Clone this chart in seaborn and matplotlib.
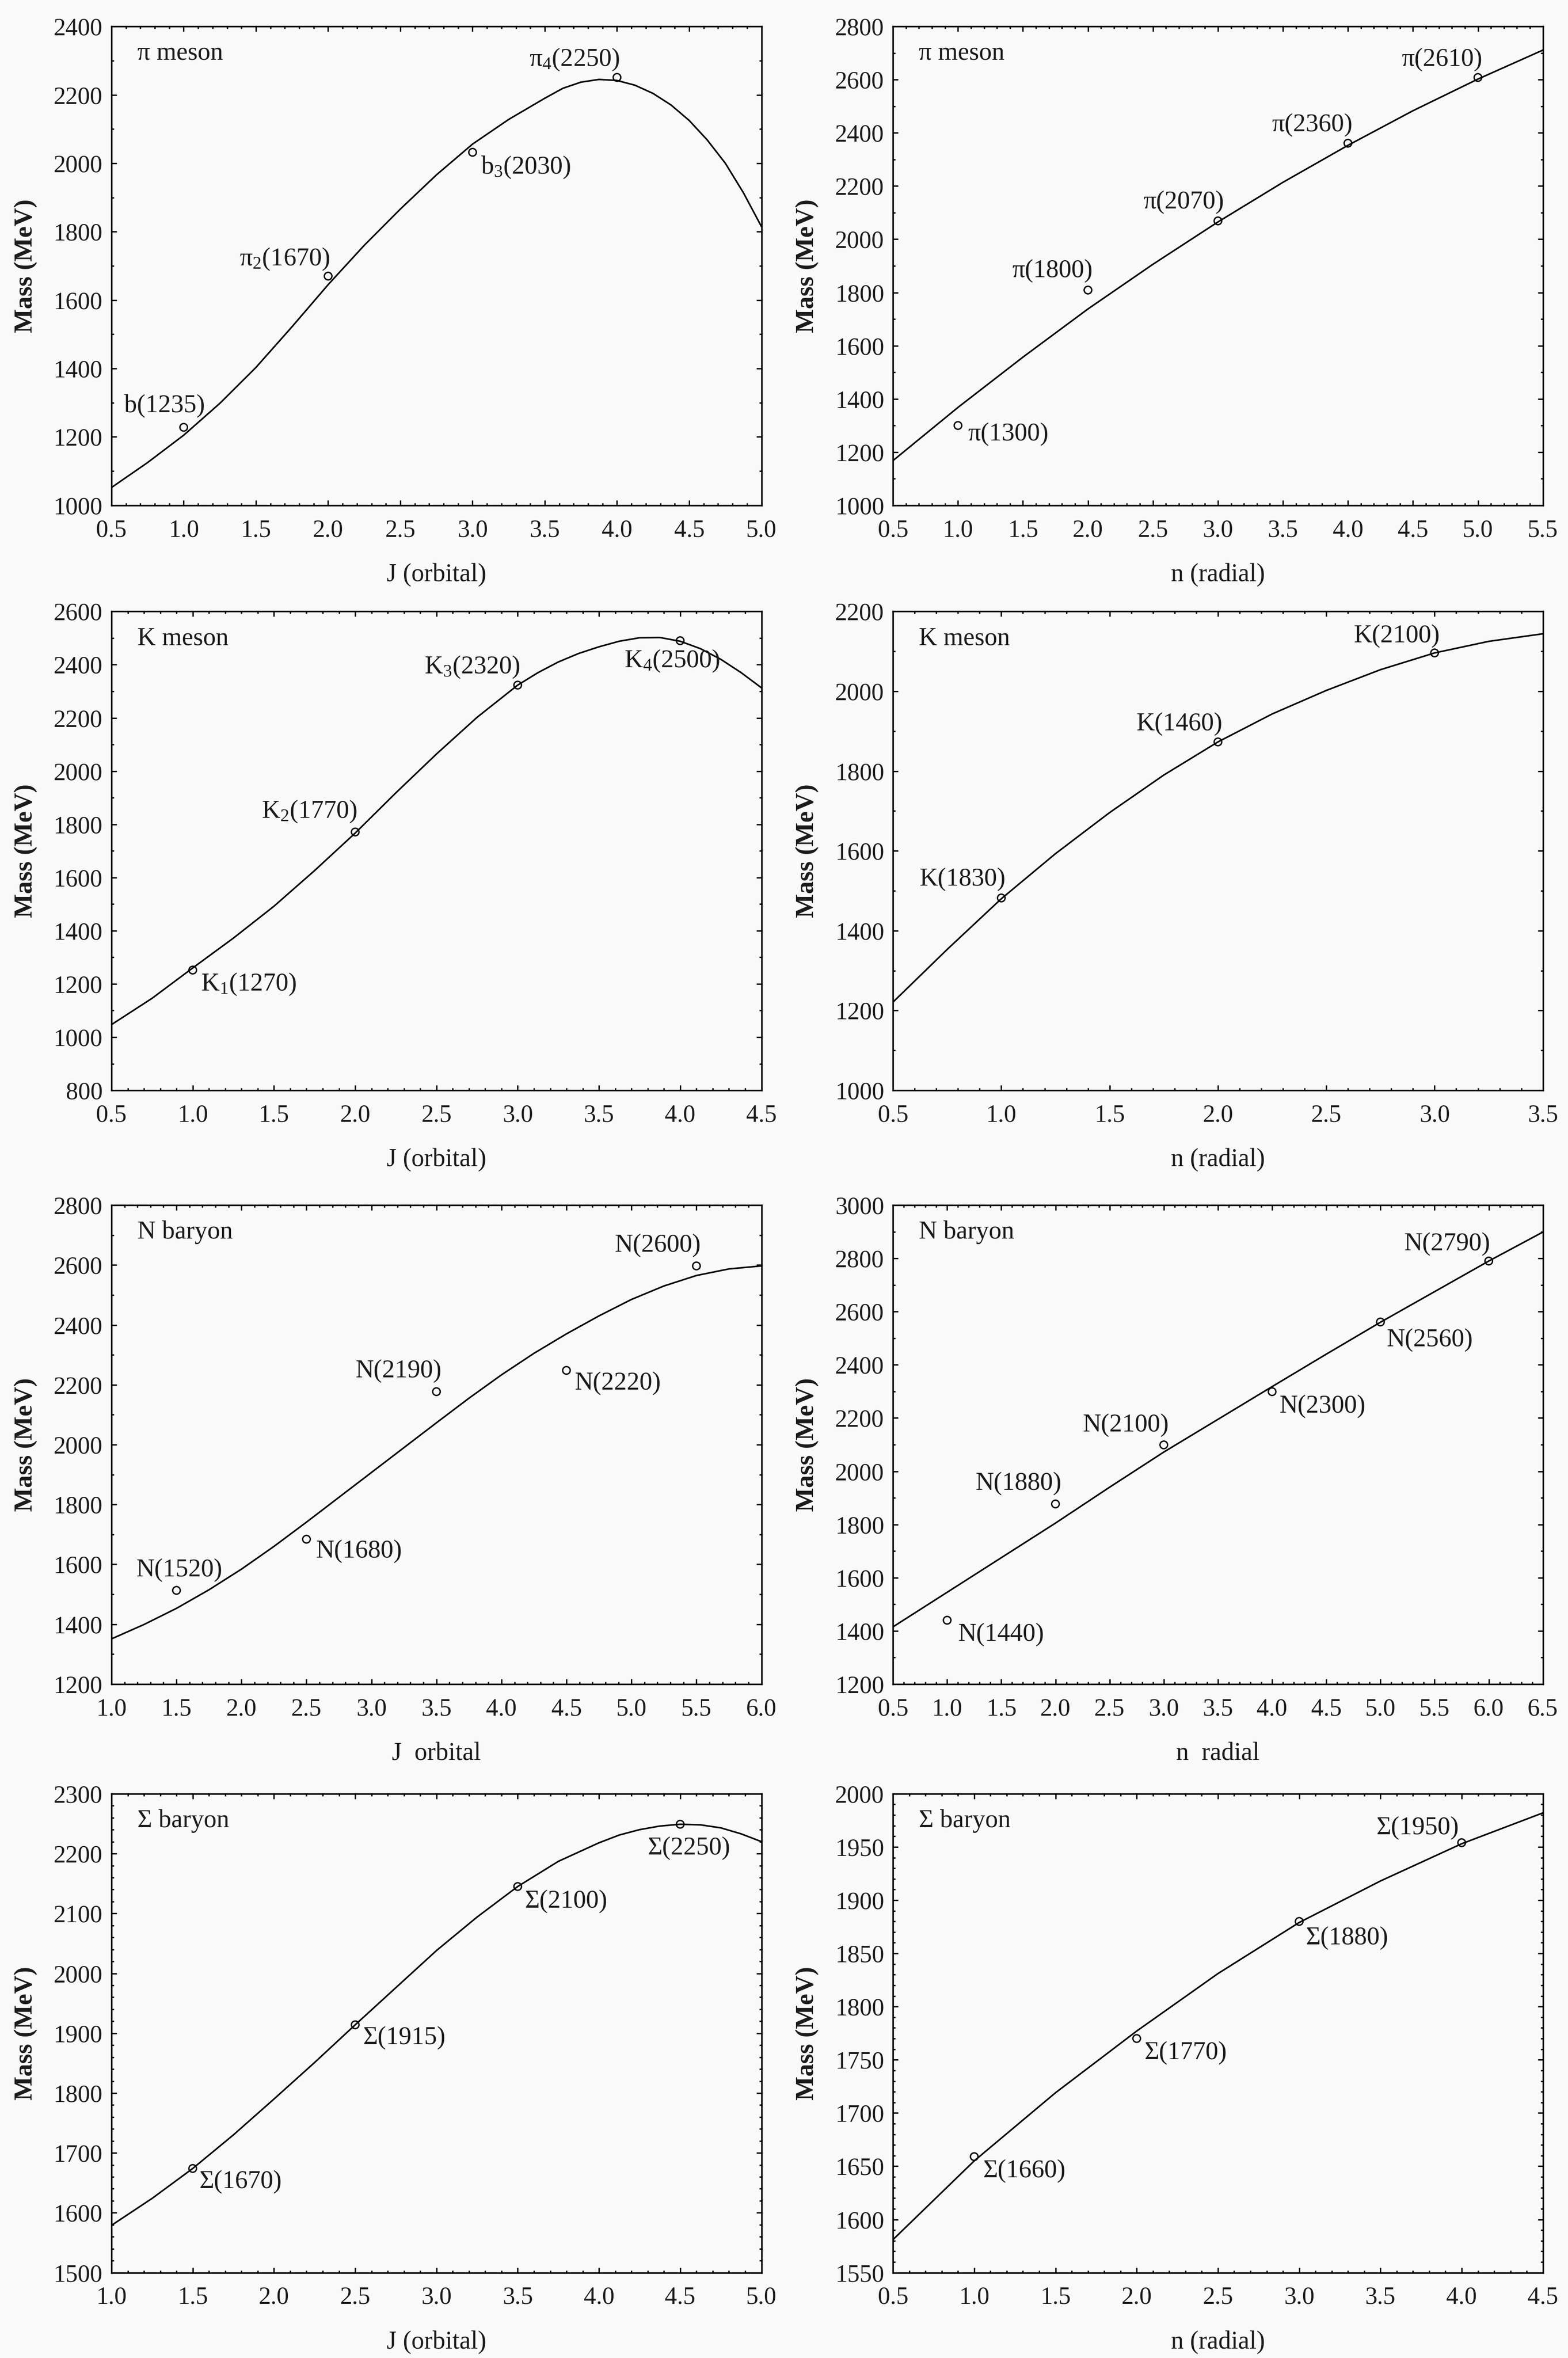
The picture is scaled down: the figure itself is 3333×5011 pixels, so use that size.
import matplotlib
matplotlib.use("Agg")
import matplotlib.pyplot as plt
from matplotlib.ticker import MultipleLocator, FormatStrFormatter
import seaborn as sns

# ---- data ----
# pi meson, orbital
pi_j_x = [1, 2, 3, 4]
pi_j_m = [1228, 1670, 2032, 2251]
pi_j_lab = ["b(1235)", "π$_2$(1670)", "b$_3$(2030)", "π$_4$(2250)"]
pi_j_cx = [0.5, 0.75, 1.0, 1.25, 1.5, 1.75, 2.0, 2.25, 2.5, 2.75, 3.0, 3.25, 3.5, 3.625, 3.75,
           3.875, 4.0, 4.125, 4.25, 4.375, 4.5, 4.625, 4.75, 4.875, 5.0]
pi_j_cy = [1052, 1125, 1205, 1298, 1403, 1522, 1645, 1760, 1866, 1966, 2056, 2128, 2190, 2219, 2237,
           2245, 2242, 2228, 2204, 2170, 2125, 2068, 2000, 1914, 1815]

# pi meson, radial
pi_n_x = [1, 2, 3, 4, 5]
pi_n_m = [1300, 1809, 2069, 2361, 2608]
pi_n_lab = ["π(1300)", "π(1800)", "π(2070)", "π(2360)", "π(2610)"]
pi_n_cx = [0.5, 1.0, 1.5, 2.0, 2.5, 3.0, 3.5, 4.0, 4.5, 5.0, 5.5]
pi_n_cy = [1168, 1368, 1557, 1738, 1906, 2065, 2214, 2353, 2483, 2602, 2711]

# K meson, orbital
k_j_x = [1, 2, 3, 4]
k_j_m = [1252, 1771, 2323, 2490]
k_j_lab = ["K$_1$(1270)", "K$_2$(1770)", "K$_3$(2320)", "K$_4$(2500)"]
k_j_cx = [0.5, 0.75, 1.0, 1.25, 1.5, 1.75, 2.0, 2.25, 2.5, 2.75, 3.0, 3.125, 3.25, 3.375, 3.5,
          3.625, 3.75, 3.875, 4.0, 4.125, 4.25, 4.375, 4.5]
k_j_cy = [1047, 1146, 1260, 1372, 1492, 1626, 1767, 1918, 2064, 2202, 2323, 2370, 2410, 2442, 2467,
          2488, 2501, 2502, 2488, 2460, 2420, 2370, 2313]

# K meson, radial
k_n_x = [1, 2, 3]
k_n_m = [1482, 1873, 2096]
k_n_lab = ["K(1830)", "K(1460)", "K(2100)"]
k_n_cx = [0.5, 0.75, 1.0, 1.25, 1.5, 1.75, 2.0, 2.25, 2.5, 2.75, 3.0, 3.25, 3.5]
k_n_cy = [1221, 1353, 1480, 1593, 1696, 1790, 1873, 1943, 2002, 2054, 2096, 2125, 2144]

# N baryon, orbital
n_j_x = [1.5, 2.5, 3.5, 4.5, 5.5]
n_j_m = [1513, 1684, 2177, 2248, 2597]
n_j_lab = ["N(1520)", "N(1680)", "N(2190)", "N(2220)", "N(2600)"]
n_j_cx = [1.0, 1.25, 1.5, 1.75, 2.0, 2.25, 2.5, 2.75, 3.0, 3.25, 3.5,
          3.75, 4.0, 4.25, 4.5, 4.75, 5.0, 5.25, 5.5, 5.75, 6.0]
n_j_cy = [1351, 1399, 1453, 1515, 1584, 1660, 1741, 1824, 1907, 1990, 2073,
          2155, 2233, 2305, 2370, 2430, 2485, 2530, 2565, 2587, 2597]

# N baryon, radial
n_n_x = [1, 2, 3, 4, 5, 6]
n_n_m = [1440, 1877, 2099, 2299, 2561, 2790]
n_n_lab = ["N(1440)", "N(1880)", "N(2100)", "N(2300)", "N(2560)", "N(2790)"]
n_n_cx = [0.5, 1.0, 1.5, 2.0, 2.5, 3.0, 3.5, 4.0, 4.5, 5.0, 5.5, 6.0, 6.5]
n_n_cy = [1415, 1545, 1675, 1805, 1940, 2072, 2195, 2318, 2440, 2560, 2675, 2790, 2899]

# Sigma baryon, orbital
s_j_x = [1.5, 2.5, 3.5, 4.5]
s_j_m = [1674, 1914, 2145, 2249]
s_j_lab = ["Σ(1670)", "Σ(1915)", "Σ(2100)", "Σ(2250)"]
s_j_cx = [1.0, 1.25, 1.5, 1.75, 2.0, 2.25, 2.5, 2.75, 3.0, 3.25, 3.5, 3.75, 4.0, 4.125, 4.25,
          4.375, 4.5, 4.625, 4.75, 4.875, 5.0]
s_j_cy = [1579, 1624, 1674, 1730, 1790, 1851, 1914, 1976, 2038, 2094, 2145, 2187, 2218, 2231, 2240,
          2246, 2249, 2248, 2243, 2233, 2220]

# Sigma baryon, radial
s_n_x = [1, 2, 3, 4]
s_n_m = [1659, 1770, 1880, 1954]
s_n_lab = ["Σ(1660)", "Σ(1770)", "Σ(1880)", "Σ(1950)"]
s_n_cx = [0.5, 1.0, 1.5, 2.0, 2.5, 3.0, 3.5, 4.0, 4.5]
s_n_cy = [1581, 1655, 1719, 1777, 1831, 1879, 1918, 1953, 1982]

titles = ["π meson", "π meson", "K meson", "K meson",
          "N baryon", "N baryon", "Σ baryon", "Σ baryon"]
xlabels = ["J (orbital)", "n (radial)", "J (orbital)", "n (radial)",
           "J  orbital", "n  radial", "J (orbital)", "n (radial)"]

# ---- layout ----
sns.set_theme(style="ticks")
plt.rcParams["font.family"] = ["Liberation Serif", "DejaVu Serif"]
plt.rcParams["mathtext.fontset"] = "custom"
plt.rcParams["mathtext.rm"] = "Liberation Serif"
plt.rcParams["mathtext.default"] = "regular"
plt.rcParams["lines.solid_joinstyle"] = "round"

BG = "#f9f9f9"
INK = "#1a1a1a"

fig = plt.figure(figsize=(3333 / 300, 5011 / 300), dpi=300, facecolor=BG)

col_left = [0.0711, 0.5695]
col_w = 0.4145
row_bot = [0.7857, 0.5376, 0.2858, 0.0362]
row_h = 0.2031

panels = [
    (pi_j_x, pi_j_m, pi_j_lab, pi_j_cx, pi_j_cy, (0.5, 5.0), (1000, 2400), 200, 100),
    (pi_n_x, pi_n_m, pi_n_lab, pi_n_cx, pi_n_cy, (0.5, 5.5), (1000, 2800), 200, 100),
    (k_j_x, k_j_m, k_j_lab, k_j_cx, k_j_cy, (0.5, 4.5), (800, 2600), 200, 100),
    (k_n_x, k_n_m, k_n_lab, k_n_cx, k_n_cy, (0.5, 3.5), (1000, 2200), 200, 100),
    (n_j_x, n_j_m, n_j_lab, n_j_cx, n_j_cy, (1.0, 6.0), (1200, 2800), 200, 100),
    (n_n_x, n_n_m, n_n_lab, n_n_cx, n_n_cy, (0.5, 6.5), (1200, 3000), 200, 100),
    (s_j_x, s_j_m, s_j_lab, s_j_cx, s_j_cy, (1.0, 5.0), (1500, 2300), 100, 20),
    (s_n_x, s_n_m, s_n_lab, s_n_cx, s_n_cy, (0.5, 4.5), (1550, 2000), 50, 10),
]

# label placement: (horizontal alignment, dx, dy) in points from each marker
label_pos = [
    [("right", 10.8, 7.7), ("right", 0.7, 5.5), ("left", 4.3, -11.0), ("right", 1.2, 5.8)],
    [("left", 5.0, -7.7), ("right", 2.4, 6.5), ("right", 3.1, 6.2), ("right", 2.4, 6.0), ("right", 2.2, 5.8)],
    [("left", 4.1, -10.6), ("right", 1.2, 7.2), ("right", 1.2, 6.0), ("left", -28.6, -13.7)],
    [("right", 2.2, 6.2), ("right", 2.4, 5.8), ("right", 2.6, 5.3)],
    [("center", 1.4, 7.2), ("left", 4.8, -9.4), ("right", 2.6, 7.2), ("left", 4.1, -9.8), ("right", 2.2, 7.2)],
    [("left", 5.5, -10.6), ("right", 3.1, 7.2), ("right", 2.6, 6.7), ("left", 3.6, -10.8),
     ("left", 3.1, -12.5), ("right", 0.7, 5.5)],
    [("left", 3.4, -10.1), ("left", 4.1, -9.8), ("left", 3.6, -10.8), ("left", -16.6, -15.6)],
    [("left", 4.6, -10.6), ("left", 4.1, -10.6), ("left", 3.4, -11.8), ("right", -1.2, 4.3)],
]

for i, (px, py, labs, cx, cy, xl, yl, ymaj, ymin) in enumerate(panels):
    r, c = divmod(i, 2)
    ax = fig.add_axes([col_left[c], row_bot[r], col_w, row_h])
    ax.set_facecolor(BG)

    sns.lineplot(x=cx, y=cy, ax=ax, color="black", linewidth=0.8)
    sns.scatterplot(x=px, y=py, ax=ax, marker="o", s=15, color="black", linewidth=0.7, zorder=3)
    pts = ax.collections[-1]
    pts.set_facecolor("none")
    pts.set_edgecolor("black")

    for (ha, dx, dy), x, y, lab in zip(label_pos[i], px, py, labs):
        ax.annotate(lab, (x, y), xytext=(dx, dy), textcoords="offset points",
                    ha=ha, va="baseline", fontsize=13, color=INK)

    ax.text(0.04, 0.93, titles[i], transform=ax.transAxes, ha="left", va="baseline",
            fontsize=13, color=INK)

    ax.set_xlim(*xl)
    ax.set_ylim(*yl)
    ax.xaxis.set_major_locator(MultipleLocator(0.5))
    ax.xaxis.set_minor_locator(MultipleLocator(0.1))
    ax.xaxis.set_major_formatter(FormatStrFormatter("%.1f"))
    ax.yaxis.set_major_locator(MultipleLocator(ymaj))
    ax.yaxis.set_minor_locator(MultipleLocator(ymin))

    ax.tick_params(which="both", direction="in", top=True, right=True,
                   color="black", width=0.7, labelsize=12.5, labelcolor=INK)
    ax.tick_params(which="major", length=2.6)
    ax.tick_params(which="minor", length=1.3)
    ax.tick_params(axis="x", which="major", pad=7)
    ax.tick_params(axis="y", which="major", pad=4.5)

    for sp in ax.spines.values():
        sp.set_color("black")
        sp.set_linewidth(0.8)

    ax.set_xlabel(xlabels[i], fontsize=13, color=INK, labelpad=11)
    ax.set_ylabel("Mass (MeV)", fontsize=13, color=INK, labelpad=8, fontweight="bold")

fig.savefig("out.png", dpi=300, facecolor=BG)
